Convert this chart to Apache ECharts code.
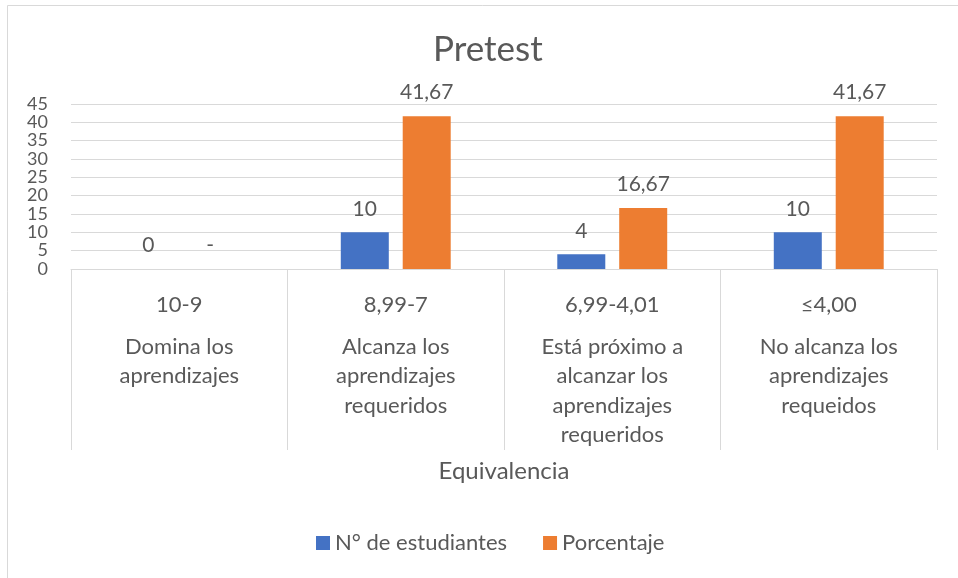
<!DOCTYPE html>
<html>
<head>
<meta charset="utf-8">
<script src="https://cdn.jsdelivr.net/npm/echarts@6/dist/echarts.min.js"></script>
<style>
html,body{margin:0;padding:0;background:#fff;}
#chart{width:958px;height:578px;}
</style>
</head>
<body>
<div id="chart"></div>
<script>
const titleText = "Pretest";
const ranges = ["10-9", "8,99-7", "6,99-4,01", "≤4,00"];
const descriptions = [
  "Domina los\naprendizajes",
  "Alcanza los\naprendizajes\nrequeridos",
  "Está próximo a\nalcanzar los\naprendizajes\nrequeridos",
  "No alcanza los\naprendizajes\nrequeidos"
];
const seriesNames = ["N° de estudiantes", "Porcentaje"];
const estudiantes = [0, 10, 4, 10];
const porcentaje = [0, 41.67, 16.67, 41.67];
const yTicks = [0, 5, 10, 15, 20, 25, 30, 35, 40, 45];
const axisName = "Equivalencia";

const FONT = "Lato";
const TXT = "#595959";
const GRID = "#d9d9d9";

const chart = echarts.init(document.getElementById('chart'), null, {renderer: 'canvas'});

function fmtPct(v) {
  if (v === 0) return "-";
  return v.toFixed(2).replace(".", ",");
}

const option = {
  backgroundColor: "#fff",
  animation: false,
  title: {
    text: titleText,
    left: 428,
    top: 27,
    textStyle: {fontFamily: FONT, fontSize: 35, fontWeight: 'normal', color: TXT}
  },
  legend: {
    bottom: 19,
    left: 311,
    itemWidth: 14,
    itemHeight: 14,
    itemGap: 36,
    icon: 'rect',
    textStyle: {fontFamily: FONT, fontSize: 22, color: TXT},
    data: seriesNames
  },
  grid: {left: 71, right: 21, top: 104, bottom: 309, containLabel: false},
  xAxis: {
    type: 'category',
    data: ranges,
    name: axisName,
    nameLocation: 'middle',
    nameGap: 190,
    nameTextStyle: {fontFamily: FONT, fontSize: 24, color: TXT},
    axisLine: {show: true, lineStyle: {color: GRID, width: 1}},
    axisTick: {show: true, length: 181, lineStyle: {color: GRID, width: 1}},
    axisLabel: {
      margin: 21,
      interval: 0,
      formatter: function (v, i) {
        const d = descriptions[i].split("\n").map(s => "{b|" + s + "}").join("\n");
        return "{a|" + v + "}\n{g| }\n" + d;
      },
      rich: {
        a: {fontFamily: FONT, fontSize: 22, color: TXT, lineHeight: 30},
        g: {fontSize: 10, lineHeight: 12},
        b: {fontFamily: FONT, fontSize: 22, color: TXT, lineHeight: 29.5}
      }
    },
    splitLine: {show: false}
  },
  yAxis: {
    type: 'value',
    min: yTicks[0],
    max: yTicks[yTicks.length - 1],
    interval: 5,
    axisLine: {show: false},
    axisTick: {show: false},
    axisLabel: {
      margin: 23,
      fontFamily: FONT, fontSize: 18, color: TXT
    },
    splitLine: {lineStyle: {color: GRID, width: 1}}
  },
  series: [
    {
      name: seriesNames[0],
      type: 'bar',
      data: estudiantes,
      barWidth: 48,
      barGap: '29%',
      itemStyle: {color: '#4472C4'},
      label: {
        show: true, position: 'top', distance: 13,
        fontFamily: FONT, fontSize: 21, color: TXT,
        formatter: p => String(p.value)
      }
    },
    {
      name: seriesNames[1],
      type: 'bar',
      data: porcentaje,
      barWidth: 48,
      barGap: '29%',
      itemStyle: {color: '#ED7D31'},
      label: {
        show: true, position: 'top', distance: 13,
        fontFamily: FONT, fontSize: 21, color: TXT,
        formatter: p => fmtPct(p.value)
      }
    }
  ],
  graphic: [
    {type: 'line', shape: {x1: 7.5, y1: 5.5, x2: 7.5, y2: 578}, style: {stroke: GRID, lineWidth: 1}},
    {type: 'line', shape: {x1: 7.5, y1: 5.5, x2: 958, y2: 5.5}, style: {stroke: GRID, lineWidth: 1}}
  ]
};
chart.setOption(option);
</script>
</body>
</html>
